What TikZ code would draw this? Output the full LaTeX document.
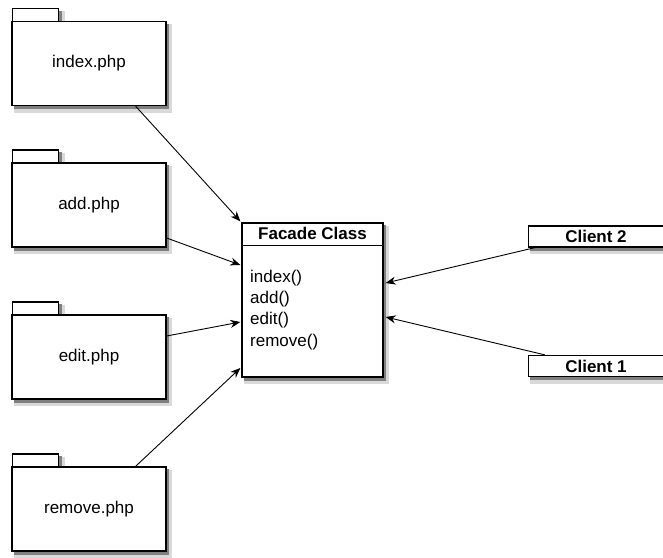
\documentclass[tikz,border=0pt]{standalone}
\usepackage{fontspec}
\setmainfont{Liberation Sans}
\usetikzlibrary{arrows.meta,calc}
\pgfdeclarelayer{bg}
\pgfsetlayers{bg,main}
\tikzset{
  pkg/.style={draw=black, line width=1.3pt, fill=white, minimum width=154pt, minimum height=84pt, inner sep=0pt,
    font=\fontsize{17}{20}\selectfont},
  tab/.style={draw=black, line width=1.3pt, fill=white},
  cls/.style={draw=black, line width=1.3pt, fill=white, inner sep=0pt},
  client/.style={draw=black, line width=1.3pt, fill=white, minimum width=135pt, minimum height=21pt, inner sep=0pt,
    font=\bfseries\fontsize{17}{20}\selectfont},
  txt/.style={font=\fontsize{17}{20}\selectfont, inner sep=0pt, anchor=west},
  arr/.style={draw=black, line width=0.9pt, -{Stealth[length=10pt,width=8pt]}},
  shsoft/.style={fill=black!15, draw=black!15, line width=3pt},
  shdark/.style={fill=black!50},
}
\newcommand{\mkshadow}[1]{%
  \begin{pgfonlayer}{bg}
    \filldraw[shsoft] ($(#1.north west)+(4,5)$) rectangle ($(#1.south east)+(4,5)$);
    \fill[shdark] ($(#1.north west)+(2.5,3)$) rectangle ($(#1.south east)+(2.5,3)$);
  \end{pgfonlayer}}
\begin{document}
\begin{tikzpicture}[x=1pt,y=-1pt]
\useasboundingbox (0,0) rectangle (663,557);
% packages
\foreach \nm/\cy/\lbl in {idx/63.5/index.php, add/205/add.php, edt/357/edit.php, rmv/509/remove.php}{
  \node[tab, minimum width=46pt, minimum height=13pt, inner sep=0pt, anchor=south west] (\nm t) at (12,\cy-41.5) {};
  \node[pkg] (\nm) at (89,\cy) {\lbl};
  \mkshadow{\nm t}
  \mkshadow{\nm}
}
% facade class
\node[cls, minimum width=141pt, minimum height=154pt] (fac) at (312.5,300) {};
\mkshadow{fac}
\draw[line width=1.3pt] ($(fac.north west)+(0,23)$) coordinate (hl) -- ($(fac.north east)+(0,23)$) coordinate (hr);
\node[font=\bfseries\fontsize{17}{20}\selectfont, inner sep=0pt] (title) at ($(fac.north)+(0,11.5)$) {Facade Class};
\node[txt] (m1) at (250,278) {index()};
\node[txt] (m2) at (250,299) {add()};
\node[txt] (m3) at (250,320) {edit()};
\node[txt] (m4) at (250,342) {remove()};
% clients
\node[client] (c2) at (596,236.5) {Client 2};
\node[client] (c1) at (596,366) {Client 1};
\mkshadow{c2}
\mkshadow{c1}
% arrows
\draw[arr] ($(idx.south west)!0.8!(idx.south east)$) -- ($(fac.north west)+(-1,-1)$);
\draw[arr] ($(add.east)+(0,33)$) -- ($(fac.west)+(-1,-35)$);
\draw[arr] ($(edt.east)+(0,-21)$) -- ($(fac.west)+(-1,22)$);
\draw[arr] ($(rmv.north west)!0.8!(rmv.north east)$) -- ($(fac.west)+(-1,68)$);
\draw[arr] ($(c2.south west)+(7,0)$) -- ($(fac.east)+(2,-17)$);
\draw[arr] ($(c1.north west)+(17,0)$) -- ($(fac.east)+(2,17)$);
\end{tikzpicture}
\end{document}
